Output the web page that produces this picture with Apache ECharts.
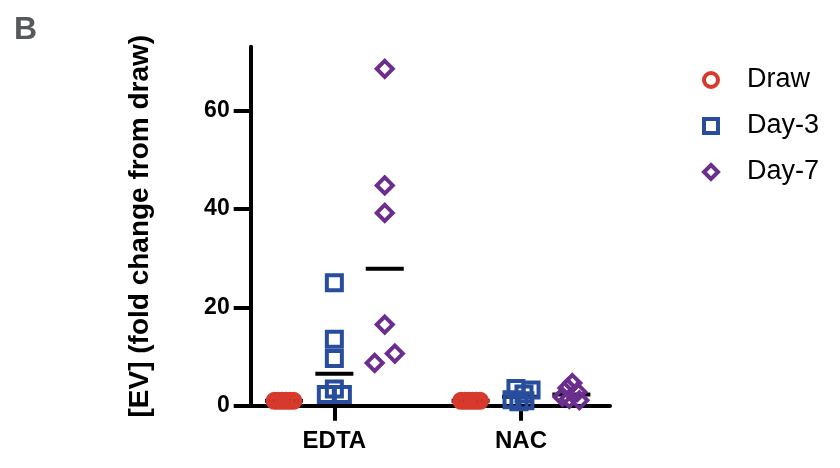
<!DOCTYPE html>
<html><head><meta charset="utf-8">
<script src="https://cdn.jsdelivr.net/npm/echarts@6/dist/echarts.min.js"></script>
<style>html,body{margin:0;padding:0;background:#fff}#c{width:840px;height:468px}</style>
</head><body><div id="c"></div>
<script>
const categories = ['EDTA', 'NAC'];
const seriesNames = ['Draw', 'Day-3', 'Day-7'];
const yTicks = [0, 20, 40, 60];

const drawEDTA = [1, 1, 1, 1, 1, 1];
const day3EDTA = [25, 13.5, 9.6, 3.4, 2.3, 2.3];
const day7EDTA = [68.5, 44.8, 39.2, 16.5, 10.6, 8.7];
const drawNAC = [1, 1, 1, 1, 1, 1];
const day3NAC = [3.5, 3.2, 2.4, 1.2, 1.0, 0.8];
const day7NAC = [4.6, 3.6, 2.8, 1.8, 1.4, 1.1];

// horizontal scatter of overlapping points (layout, in category units)
const spreadDraw = [-0.051, -0.031, -0.010, 0.010, 0.031, 0.051];
const spreadDay3EDTA = [0, 0, 0, 0, -0.043, 0.043];
const spreadDay7EDTA = [0, 0, 0, 0, 0.054, -0.054];
const spreadDay3NAC = [-0.027, 0.054, 0.016, -0.048, 0.021, -0.011];
const spreadDay7NAC = [0.005, -0.021, 0.032, -0.048, -0.011, 0.043];
const groupOffset = [-0.27, 0, 0.27];

const colors = ['#d7392c', '#284d9c', '#6b2e8f'];
const symbols = ['circle', 'rect', 'diamond'];
const sizes = [14, 15, 16];
const FONT = "'Liberation Sans', Arial, Helvetica, sans-serif";

const groups = [
  [[drawEDTA, spreadDraw], [drawNAC, spreadDraw]],
  [[day3EDTA, spreadDay3EDTA], [day3NAC, spreadDay3NAC]],
  [[day7EDTA, spreadDay7EDTA], [day7NAC, spreadDay7NAC]]
];

function median(a) {
  const s = a.slice().sort((x, y) => x - y);
  const n = s.length;
  return n % 2 ? s[(n - 1) / 2] : (s[n / 2 - 1] + s[n / 2]) / 2;
}

const series = [];
const medianData = [];
groups.forEach((g, si) => {
  const data = [];
  g.forEach(([vals, spread], ci) => {
    const x0 = ci + 1 + groupOffset[si];
    vals.forEach((v, i) => data.push([x0 + spread[i], v]));
    medianData.push([x0, median(vals)]);
  });
  series.push({
    name: seriesNames[si], type: 'scatter', data,
    symbol: symbols[si], symbolSize: sizes[si], z: 3,
    itemStyle: { color: 'rgba(0,0,0,0)', borderColor: colors[si], borderWidth: 4, opacity: 1 },
    emphasis: { disabled: true }, silent: true
  });
});
series.unshift({
  name: 'median', type: 'scatter', data: medianData, z: 2,
  symbol: 'rect', symbolSize: [38, 4],
  itemStyle: { color: '#000', opacity: 1 }, emphasis: { disabled: true }, silent: true
});

const chart = echarts.init(document.getElementById('c'), null, { renderer: 'canvas' });
chart.setOption({
  animation: false,
  backgroundColor: '#fff',
  title: { text: 'B', left: 9, top: 9, textStyle: { fontFamily: FONT, fontSize: 32, fontWeight: 'bold', color: '#55585c' } },
  legend: {
    data: seriesNames, orient: 'vertical', left: 697, top: 60,
    itemWidth: 14, itemHeight: 14, itemGap: 16,
    itemStyle: { borderWidth: 4 },
    textStyle: { fontFamily: FONT, fontSize: 27, color: '#000', padding: [0, 0, 0, 24], lineHeight: 30 },
    selectedMode: false
  },
  grid: { left: 250.7, top: 46.7, width: 359.3, bottom: 62.3, containLabel: false },
  xAxis: {
    type: 'value', min: 0.5517, max: 2.477,
    splitLine: { show: false },
    axisLine: { show: true, onZero: false, lineStyle: { color: '#000', width: 4 } },
    axisTick: { show: true, customValues: [1, 2], length: 15, lineStyle: { color: '#000', width: 4 } },
    axisLabel: {
      customValues: [1, 2], margin: 24,
      formatter: v => categories[Math.round(v) - 1] || '',
      fontFamily: FONT, fontSize: 24, fontWeight: 'bold', color: '#000'
    }
  },
  yAxis: {
    type: 'value', min: 0, max: 73,
    name: '[EV] (fold change from draw)', nameLocation: 'middle', nameGap: 96,
    nameTextStyle: { fontFamily: FONT, fontSize: 28, fontWeight: 'bold', color: '#000' },
    splitLine: { show: false },
    axisLine: { show: true, lineStyle: { color: '#000', width: 4 } },
    axisTick: { show: true, customValues: yTicks, length: 17, lineStyle: { color: '#000', width: 4 } },
    axisLabel: {
      customValues: yTicks, margin: 21,
      fontFamily: FONT, fontSize: 23, fontWeight: 'bold', color: '#000'
    }
  },
  series
});
</script>
</body></html>
